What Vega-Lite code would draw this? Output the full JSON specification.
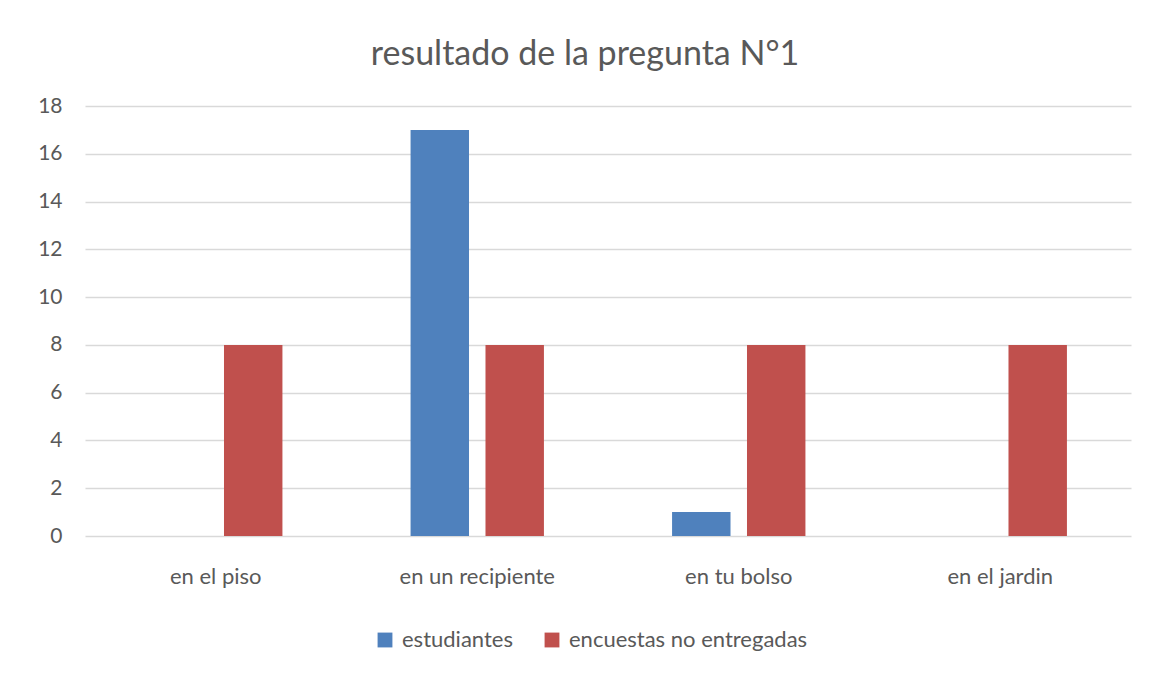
{
  "$schema": "https://vega.github.io/schema/vega-lite/v6.json",
  "autosize": {"type": "none"},
  "width": 1046,
  "height": 430,
  "padding": {"left": 85, "top": 106, "right": 28, "bottom": 137},
  "background": "white",
  "title": {
    "text": "resultado de la pregunta N°1",
    "font": "Lato",
    "fontSize": 34,
    "fontWeight": "normal",
    "color": "#595959",
    "anchor": "middle",
    "dx": -23,
    "offset": 23
  },
  "data": {
    "values": [
      {"categoria": "en el piso", "serie": "estudiantes", "valor": 0},
      {"categoria": "en el piso", "serie": "encuestas no entregadas", "valor": 8},
      {"categoria": "en un recipiente", "serie": "estudiantes", "valor": 17},
      {"categoria": "en un recipiente", "serie": "encuestas no entregadas", "valor": 8},
      {"categoria": "en tu bolso", "serie": "estudiantes", "valor": 1},
      {"categoria": "en tu bolso", "serie": "encuestas no entregadas", "valor": 8},
      {"categoria": "en el jardin", "serie": "estudiantes", "valor": 0},
      {"categoria": "en el jardin", "serie": "encuestas no entregadas", "valor": 8}
    ]
  },
  "mark": {"type": "bar"},
  "encoding": {
    "x": {
      "field": "categoria",
      "type": "nominal",
      "sort": ["en el piso", "en un recipiente", "en tu bolso", "en el jardin"],
      "scale": {"paddingInner": 0.49, "paddingOuter": 0.245},
      "axis": {
        "title": null,
        "labelAngle": 0,
        "ticks": false,
        "domain": false,
        "labelFont": "Lato",
        "labelFontSize": 22,
        "labelColor": "#595959",
        "labelPadding": 30
      }
    },
    "xOffset": {
      "field": "serie",
      "type": "nominal",
      "sort": ["estudiantes", "encuestas no entregadas"],
      "scale": {"paddingInner": 0.22, "paddingOuter": 0}
    },
    "y": {
      "field": "valor",
      "type": "quantitative",
      "scale": {"domain": [0, 18]},
      "axis": {
        "title": null,
        "values": [0, 2, 4, 6, 8, 10, 12, 14, 16, 18],
        "ticks": false,
        "domain": false,
        "gridColor": "#d9d9d9",
        "gridWidth": 1.5,
        "labelFont": "Lato",
        "labelFontSize": 21,
        "labelColor": "#595959",
        "labelPadding": 23
      }
    },
    "color": {
      "field": "serie",
      "type": "nominal",
      "sort": ["estudiantes", "encuestas no entregadas"],
      "scale": {"domain": ["estudiantes", "encuestas no entregadas"], "range": ["#4F81BD", "#C0504D"]},
      "legend": {
        "title": null,
        "orient": "none",
        "legendX": 289,
        "legendY": 523,
        "direction": "horizontal",
        "symbolType": "square",
        "symbolSize": 220,
        "symbolStrokeWidth": 0,
        "labelFont": "Lato",
        "labelFontSize": 22,
        "labelColor": "#595959",
        "labelLimit": 0,
        "labelOffset": 6,
        "columnPadding": 28
      }
    }
  },
  "config": {
    "view": {"stroke": null}
  }
}
